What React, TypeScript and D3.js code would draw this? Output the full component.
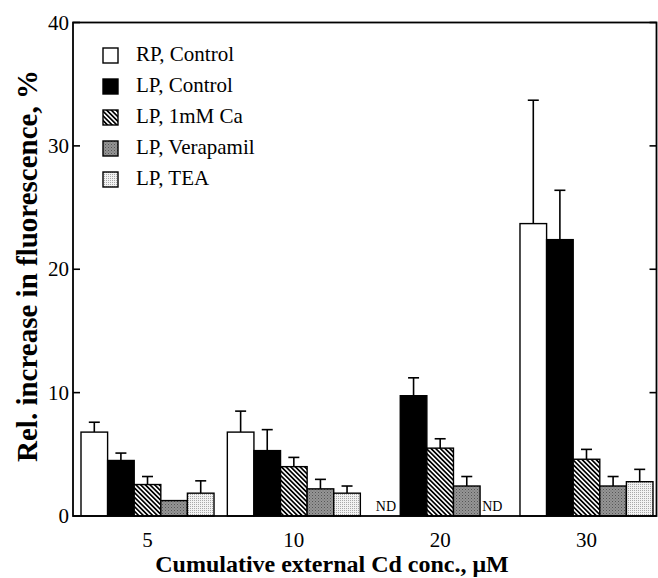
import React from "react";
import * as d3 from "d3";

const groups = ["5", "10", "20", "30"];
const series = ["RP, Control", "LP, Control", "LP, 1mM Ca", "LP, Verapamil", "LP, TEA"];
// values per series, per group (null = ND)
const rpControl: (number | null)[] = [6.8, 6.8, null, 23.7];
const lpControl: (number | null)[] = [4.5, 5.3, 9.75, 22.4];
const lpCa: (number | null)[] = [2.55, 4.0, 5.5, 4.6];
const lpVerapamil: (number | null)[] = [1.25, 2.2, 2.43, 2.43];
const lpTEA: (number | null)[] = [1.85, 1.85, null, 2.78];
// upper end of the error bar
const rpControlErr: (number | null)[] = [7.6, 8.5, null, 33.7];
const lpControlErr: (number | null)[] = [5.1, 7.0, 11.2, 26.4];
const lpCaErr: (number | null)[] = [3.2, 4.75, 6.26, 5.4];
const lpVerapamilErr: (number | null)[] = [null, 2.97, 3.2, 3.2];
const lpTEAErr: (number | null)[] = [2.85, 2.43, null, 3.78];
const yTicks = [0, 10, 20, 30, 40];

const values = [rpControl, lpControl, lpCa, lpVerapamil, lpTEA];
const errs = [rpControlErr, lpControlErr, lpCaErr, lpVerapamilErr, lpTEAErr];
const fills = ["#fff", "#000", "url(#hatch)", "url(#gray)", "url(#light)"];

const W = 658, H = 578;
const left = 73, right = 656.5, top = 22.5, bottom = 516;
const font = "'Liberation Serif', 'Times New Roman', serif";

export default function App() {
  const y = d3.scaleLinear().domain([0, 40]).range([bottom, top]);
  const xg = d3.scaleBand().domain(groups).range([81, 653]).paddingInner(0.091).paddingOuter(0);
  const xs = d3.scaleBand().domain(series).range([0, xg.bandwidth()]);
  const bw = xs.bandwidth();
  return (
    <div style={{ position: "absolute", left: 0, top: 0 }}>
      <svg width={W} height={H} style={{ display: "block", background: "#fff" }}>
        <defs>
          <pattern id="hatch" patternUnits="userSpaceOnUse" width={3.3} height={10} patternTransform="rotate(-45)">
            <rect width={3.3} height={10} fill="#fff" />
            <rect width={1.7} height={10} fill="#000" />
          </pattern>
          <pattern id="gray" patternUnits="userSpaceOnUse" width={3} height={3}>
            <rect width={3} height={3} fill="#959595" />
            <rect width={1} height={1} fill="#555" />
            <rect x={1.5} y={1.5} width={1} height={1} fill="#6a6a6a" />
          </pattern>
          <pattern id="light" patternUnits="userSpaceOnUse" width={2} height={2}>
            <rect width={2} height={2} fill="#f2f2f2" />
            <rect width={1} height={1} fill="#a8a8a8" />
          </pattern>
        </defs>
        {/* bars */}
        {series.map((s, si) =>
          groups.map((g, gi) => {
            const v = values[si][gi];
            if (v == null) return null;
            const x0 = (xg(g) as number) + (xs(s) as number);
            const e = errs[si][gi];
            const cx = x0 + bw / 2;
            return (
              <g key={s + g}>
                {e != null && (
                  <g stroke="#000" strokeWidth={1.6}>
                    <line x1={cx} x2={cx} y1={y(v)} y2={y(e)} />
                    <line x1={cx - 5.5} x2={cx + 5.5} y1={y(e)} y2={y(e)} />
                  </g>
                )}
                <rect x={x0} y={y(v)} width={bw} height={bottom - y(v)} fill={fills[si]} stroke="#000" strokeWidth={1.4} />
              </g>
            );
          })
        )}
        {/* ND labels */}
        {series.map((s, si) =>
          groups.map((g, gi) =>
            values[si][gi] == null ? (
              <text key={"nd" + s + g} x={(xg(g) as number) + (xs(s) as number) + bw / 2 - 1} y={511} textAnchor="middle"
                fontFamily={font} fontSize={14}>ND</text>
            ) : null
          )
        )}
        {/* frame */}
        <rect x={left} y={top} width={right - left} height={bottom - top} fill="none" stroke="#000" strokeWidth={1.8} />
        {/* ticks */}
        {yTicks.map((t) => (
          <g key={t}>
            <line x1={left} x2={left + 7} y1={y(t)} y2={y(t)} stroke="#000" strokeWidth={1.6} />
            <line x1={right - 7} x2={right} y1={y(t)} y2={y(t)} stroke="#000" strokeWidth={1.6} />
            <text x={left - 4} y={y(t) + 7} textAnchor="end" fontFamily={font} fontSize={21}>{t}</text>
          </g>
        ))}
        {groups.map((g) => (
          <text key={g} x={(xg(g) as number) + xg.bandwidth() / 2} y={547} textAnchor="middle" fontFamily={font} fontSize={21}>{g}</text>
        ))}
        {/* axis titles */}
        <text x={332} y={572} textAnchor="middle" fontFamily={font} fontSize={24} fontWeight="bold">Cumulative external Cd conc., μM</text>
        <text transform="translate(37,266) rotate(-90)" textAnchor="middle" fontFamily={font} fontSize={29} fontWeight="bold">Rel. increase in fluorescence, %</text>
        {/* legend */}
        {series.map((s, i) => {
          const sy = 48 + i * 31;
          return (
            <g key={"lg" + s}>
              <rect x={103} y={sy} width={15} height={15} fill={fills[i]} stroke="#000" strokeWidth={1.4} />
              <text x={136} y={sy + 13} fontFamily={font} fontSize={21}>{s}</text>
            </g>
          );
        })}
      </svg>
    </div>
  );
}
